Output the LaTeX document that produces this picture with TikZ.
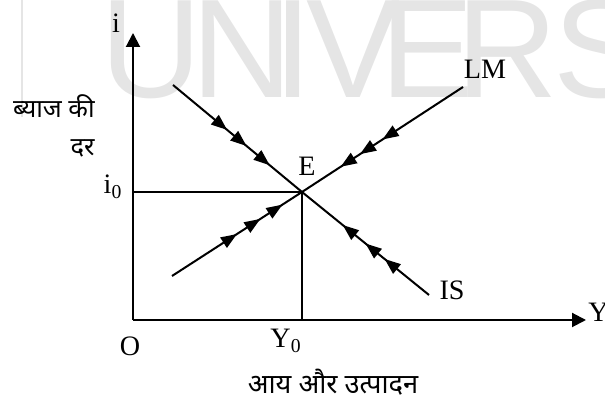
\documentclass[tikz,border=0pt]{standalone}
\usepackage{fontspec}
\setmainfont{Liberation Serif}
\newfontfamily\hindi[Script=Devanagari]{Noto Sans}
\newfontfamily\wmfont{Liberation Sans}
\usetikzlibrary{arrows.meta, decorations.markings}
\definecolor{wmgray}{gray}{0.9}

\begin{document}
\begin{tikzpicture}[
        axis/.style={line width=0.04cm, -{Triangle[length=0.28cm, width=0.28cm]}},
        curve/.style={line width=0.04cm},
        guide/.style={line width=0.035cm},
        lbl/.style={font=\fontsize{16}{19}\selectfont, inner sep=0pt},
        hlbl/.style={font=\hindi\fontsize{14.5}{21.6}\selectfont, inner sep=0pt},
        wmark/.style={font=\wmfont\fontsize{80}{80}\selectfont, text=wmgray, anchor=base, inner sep=0pt},
        flow/.style n args={3}{postaction={decorate}, decoration={markings,
            mark=at position #1 with {\arrow{Triangle[length=0.32cm, width=0.24cm]}},
            mark=at position #2 with {\arrow{Triangle[length=0.32cm, width=0.24cm]}},
            mark=at position #3 with {\arrow{Triangle[length=0.32cm, width=0.24cm]}}}}
    ]
    \useasboundingbox (-2.66,-1.58) rectangle (9.44,6.4);

    % watermark in the background
    \draw[wmgray, line width=0.04cm] (-2.22,6.4) -- (-2.22,4.06);
    \foreach \ch/\xx in {U/0.36, N/2.18, I/3.2, V/4.4, E/5.88, R/7.48, S/9.34}
        \node[wmark] at (\xx,4.44) {\ch};

    % axes
    \coordinate (O) at (0,0);
    \coordinate (ytop) at (0,5.74);
    \coordinate (xend) at (9.06,0);
    \draw[axis] (O) -- (ytop);
    \draw[axis] (O) -- (xend);

    % IS and LM curves, meeting at E
    \coordinate (E) at (3.38,2.56);
    \coordinate (IStop) at (0.8,4.7);
    \coordinate (ISbot) at (5.92,0.5);
    \coordinate (LMbot) at (0.78,0.88);
    \coordinate (LMtop) at (6.6,4.66);
    \draw[curve, flow={0.42}{0.57}{0.75}] (IStop) -- (E);
    \draw[curve, flow={0.35}{0.5}{0.68}] (ISbot) -- (E);
    \draw[curve, flow={0.5}{0.68}{0.85}] (LMbot) -- (E);
    \draw[curve, flow={0.5}{0.64}{0.76}] (LMtop) -- (E);
    \draw[guide] (E -| O) -- (E) -- (E |- O);

    % labels
    \node[lbl] (i) at (-0.34,5.94) {i};
    \node[lbl] (Y) at (9.1,0.16) [anchor=west] {Y};
    \node[lbl] (o) at (-0.06,-0.52) {O};
    \node[lbl] (Ezero) at (3.06,-0.42) {Y\textsubscript{0}};
    \node[lbl] (izero) at (-0.4,2.66) {i\textsubscript{0}};
    \node[lbl] (Elbl) at (3.48,3.08) {E};
    \node[lbl] (lm) at (7.04,5.02) {LM};
    \node[lbl] (is) at (6.38,0.6) {IS};
    \node[hlbl, align=right, anchor=east] (rate) at (-0.76,3.88) {ब्याज की\\दर};
    \node[hlbl, font=\hindi\fontsize{15.5}{19}\selectfont] (income) at (4.0,-1.25) {आय और उत्पादन};
\end{tikzpicture}
\end{document}
